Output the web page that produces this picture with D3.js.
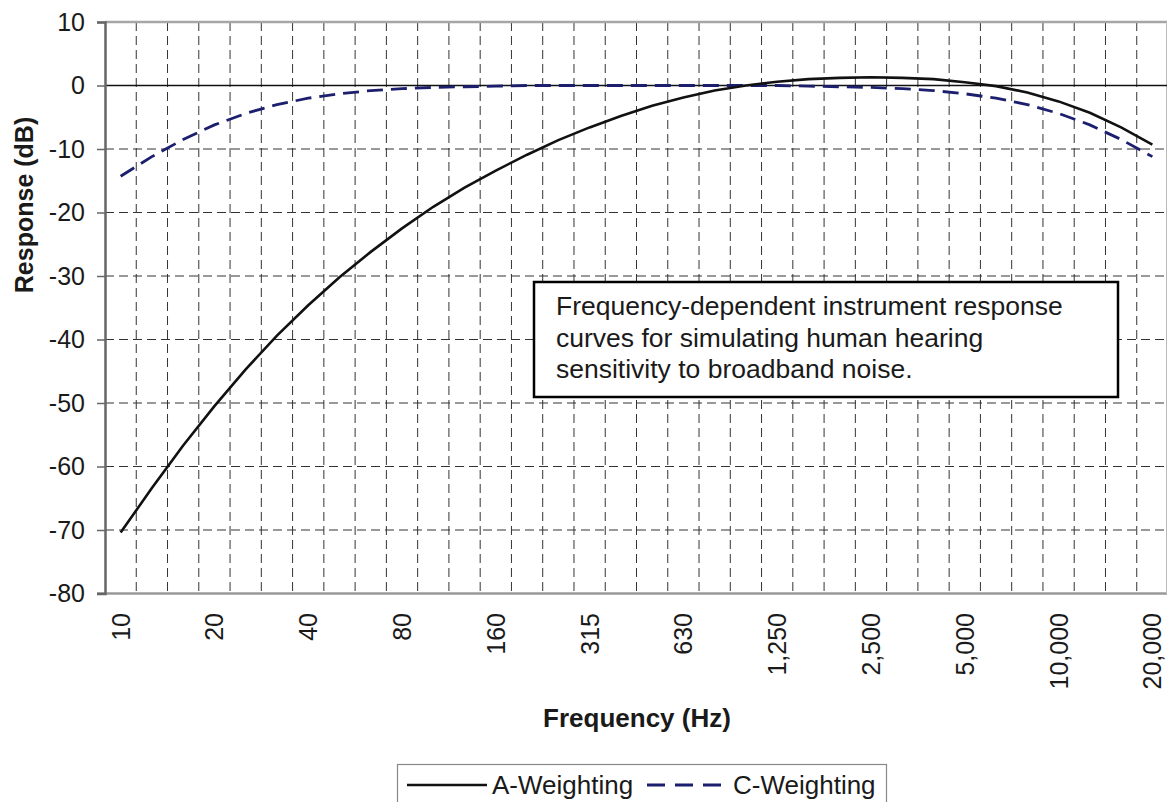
<!DOCTYPE html>
<html>
<head>
<meta charset="utf-8">
<script src="https://cdn.jsdelivr.net/npm/d3@7"></script>
<style>
  html, body { margin: 0; padding: 0; background: #fff; }
  svg { display: block; font-family: "Liberation Sans", Arial, sans-serif; }
</style>
</head>
<body>
<svg id="chart" width="1167" height="802"></svg>
<script>
// Data: 1/3-octave band centre frequencies (Hz)
const frequencies = [10, 12.5, 16, 20, 25, 31.5, 40, 50, 63, 80, 100, 125, 160, 200, 250, 315, 400, 500, 630, 800,
  1000, 1250, 1600, 2000, 2500, 3150, 4000, 5000, 6300, 8000, 10000, 12500, 16000, 20000];
const aWeighting = [-70.4, -63.4, -56.7, -50.5, -44.7, -39.4, -34.6, -30.2, -26.2, -22.5, -19.1, -16.1, -13.4, -10.9, -8.6, -6.6,
  -4.8, -3.2, -1.9, -0.8, 0, 0.6, 1.0, 1.2, 1.3, 1.2, 1.0, 0.5, -0.1, -1.1, -2.5, -4.3, -6.6, -9.3];
const cWeighting = [-14.3, -11.2, -8.5, -6.2, -4.4, -3.0, -2.0, -1.3, -0.8, -0.5, -0.3, -0.2, -0.1, 0, 0, 0,
  0, 0, 0, 0, 0, 0, -0.1, -0.2, -0.3, -0.5, -0.8, -1.3, -2.0, -3.0, -4.4, -6.2, -8.5, -11.2];
const xTickLabels = ["10", "20", "40", "80", "160", "315", "630", "1,250", "2,500", "5,000", "10,000", "20,000"];
const yTicks = [10, 0, -10, -20, -30, -40, -50, -60, -70, -80];
const seriesNames = ["A-Weighting", "C-Weighting"];
const annotationLines = ["Frequency-dependent instrument response", "curves for simulating human hearing", "sensitivity to broadband noise."];

(function () {
const svg = d3.select("#chart");
const pL = 105, pR = 1168, pT = 22, pB = 593.5;
const textColor = "#1a1a1a";
const navy = "#1c1f6e";

const x = d3.scaleBand().domain(d3.range(frequencies.length)).range([pL, pR]).paddingInner(0).paddingOuter(0);
const y = d3.scaleLinear().domain([-80, 10]).range([pB, pT]);
const cx = i => x(i) + x.bandwidth() / 2;

// Grid: vertical dashed lines at category boundaries
svg.append("g").selectAll("line").data(d3.range(1, frequencies.length)).join("line")
  .attr("x1", i => x(i)).attr("x2", i => x(i))
  .attr("y1", pT).attr("y2", pB)
  .attr("stroke", "#333").attr("stroke-width", 1).attr("stroke-dasharray", "9,5");

// Horizontal dashed gridlines
svg.append("g").selectAll("line").data(yTicks.filter(v => v !== 0 && v !== 10 && v !== -80)).join("line")
  .attr("x1", pL).attr("x2", pR)
  .attr("y1", d => y(d)).attr("y2", d => y(d))
  .attr("stroke", "#333").attr("stroke-width", 1).attr("stroke-dasharray", "9,5");

// Plot border (top, bottom, right)
svg.append("line").attr("x1", pL).attr("x2", 1167).attr("y1", pT).attr("y2", pT)
  .attr("stroke", "#a6a6a6").attr("stroke-width", 2.5);
svg.append("line").attr("x1", 97).attr("x2", 1167).attr("y1", pB).attr("y2", pB)
  .attr("stroke", "#999").attr("stroke-width", 2.5);
svg.append("line").attr("x1", 1166.5).attr("x2", 1166.5).attr("y1", pT).attr("y2", pB)
  .attr("stroke", "#bbb").attr("stroke-width", 1);

// Zero line
svg.append("line").attr("x1", pL).attr("x2", pR).attr("y1", y(0)).attr("y2", y(0))
  .attr("stroke", "#111").attr("stroke-width", 1.5);

// Y axis
const yAxis = d3.axisLeft(y).tickValues(yTicks).tickSize(8).tickPadding(12).tickFormat(d3.format("d"));
const gy = svg.append("g").attr("transform", `translate(${pL},0)`).call(yAxis);
gy.select(".domain").attr("stroke", "#666").attr("stroke-width", 2.5);
gy.selectAll(".tick line").attr("stroke", "#666").attr("stroke-width", 1.5);
gy.selectAll(".tick text").attr("font-size", 25).attr("fill", textColor)
  .attr("font-family", "'Liberation Sans', Arial, sans-serif")
  .text(d => d < 0 ? "-" + Math.abs(d) : d);

// X tick labels (every third band)
const labelIdx = d3.range(0, frequencies.length, 3);
svg.append("g").selectAll("text").data(labelIdx).join("text")
  .attr("transform", (i) => `translate(${cx(i)},613) rotate(-90)`)
  .attr("text-anchor", "end").attr("dominant-baseline", "central")
  .attr("font-size", 25).attr("fill", textColor)
  .text((i, k) => xTickLabels[k]);

// Lines
const line = d3.line().x((d, i) => cx(i)).y(d => y(d));
svg.append("path").datum(cWeighting).attr("d", line)
  .attr("fill", "none").attr("stroke", navy).attr("stroke-width", 2.8).attr("stroke-dasharray", "16,8");
svg.append("path").datum(aWeighting).attr("d", line)
  .attr("fill", "none").attr("stroke", "#111").attr("stroke-width", 2.6);

// Annotation box
svg.append("rect").attr("x", 534).attr("y", 282).attr("width", 584).attr("height", 115)
  .attr("fill", "#fff").attr("stroke", "#000").attr("stroke-width", 2.5);
svg.append("g").selectAll("text").data(annotationLines).join("text")
  .attr("x", 556).attr("y", (d, i) => 315 + i * 31.5)
  .attr("font-size", 26.5).attr("fill", textColor).text(d => d);

// Axis titles
svg.append("text").attr("x", 637).attr("y", 727).attr("text-anchor", "middle")
  .attr("font-size", 26).attr("font-weight", "bold").attr("fill", textColor).text("Frequency (Hz)");
svg.append("text").attr("transform", "translate(33,205) rotate(-90)").attr("text-anchor", "middle")
  .attr("font-size", 25).attr("font-weight", "bold").attr("fill", textColor).text("Response (dB)");

// Legend
svg.append("rect").attr("x", 397.5).attr("y", 764.5).attr("width", 489).attr("height", 60)
  .attr("fill", "#fff").attr("stroke", "#888").attr("stroke-width", 1.2);
svg.append("line").attr("x1", 407).attr("x2", 487).attr("y1", 785).attr("y2", 785)
  .attr("stroke", "#111").attr("stroke-width", 2.5);
svg.append("text").attr("x", 492).attr("y", 794).attr("font-size", 26).attr("fill", textColor).text(seriesNames[0]);
svg.append("line").attr("x1", 647).attr("x2", 721).attr("y1", 785).attr("y2", 785)
  .attr("stroke", navy).attr("stroke-width", 2.8).attr("stroke-dasharray", "18,10");
svg.append("text").attr("x", 733).attr("y", 794).attr("font-size", 26).attr("fill", textColor).text(seriesNames[1]);
})();
</script>
</body>
</html>
